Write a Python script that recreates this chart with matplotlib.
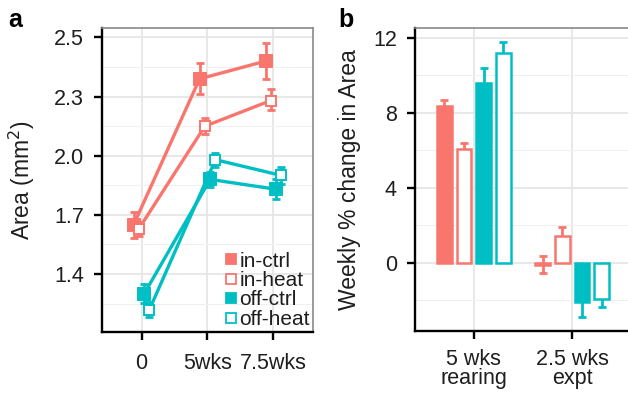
import numpy as np
import matplotlib
matplotlib.use("Agg")
import matplotlib.pyplot as plt
from matplotlib.lines import Line2D

plt.rcParams['font.family'] = ['Liberation Sans', 'DejaVu Sans']

# ---- panel a data (area, mm^2) ----
times = ['0', '5wks', '7.5wks']
groups = ['in-ctrl', 'in-heat', 'off-ctrl', 'off-heat']
area_mean = {
    'in-ctrl':  [1.65, 2.36, 2.42],
    'in-heat':  [1.63, 2.15, 2.28],
    'off-ctrl': [1.30, 1.88, 1.83],
    'off-heat': [1.22, 1.98, 1.90],
}
area_se = {
    'in-ctrl':  [0.066, 0.052, 0.061],
    'in-heat':  [0.035, 0.04, 0.046],
    'off-ctrl': [0.048, 0.036, 0.05],
    'off-heat': [0.036, 0.036, 0.041],
}
area_ticks = [1.4, 1.7, 2.0, 2.3, 2.5]

# ---- panel b data (weekly % change) ----
periods = ['5 wks\nrearing', '2.5 wks\nexpt']
change_mean = {
    'in-ctrl':  [8.36, -0.1],
    'in-heat':  [6.05, 1.42],
    'off-ctrl': [9.57, -2.08],
    'off-heat': [11.17, -1.94],
}
change_se = {
    'in-ctrl':  [0.35, 0.46],
    'in-heat':  [0.35, 0.47],
    'off-ctrl': [0.83, 0.80],
    'off-heat': [0.58, 0.41],
}

RED = '#F8766D'
TEAL = '#00BFC4'
colors = {'in-ctrl': RED, 'in-heat': RED, 'off-ctrl': TEAL, 'off-heat': TEAL}
hollow = {'in-ctrl': False, 'in-heat': True, 'off-ctrl': False, 'off-heat': True}
dodge_a = {'in-ctrl': -0.12, 'in-heat': -0.04, 'off-ctrl': 0.04, 'off-heat': 0.12}
dodge_b = {'in-ctrl': -0.3, 'in-heat': -0.1, 'off-ctrl': 0.1, 'off-heat': 0.3}

TXT = '#1e1e1e'
GRID = '#E6E6E6'


def style_axes(ax):
    ax.set_axisbelow(True)
    ax.grid(True, which='major', color=GRID, lw=1.3)
    ax.grid(True, which='minor', axis='y', color='#F0F0F0', lw=0.8)
    for s in ['left', 'bottom']:
        ax.spines[s].set_color('black')
        ax.spines[s].set_linewidth(1.7)
    for s in ['top', 'right']:
        ax.spines[s].set_color('#8a8a8a')
        ax.spines[s].set_linewidth(1.2)
    ax.tick_params(which='major', length=6, width=1.7, color='black',
                   labelsize=15.5, labelcolor=TXT, pad=7)
    ax.tick_params(which='minor', length=0)


# piecewise scale that puts the area ticks evenly apart
vals_k = np.array([0.5, 1.4, 1.7, 2.0, 2.3, 2.5, 3.5])
pos_k = np.array([-3.0, 0, 1, 2, 3, 4, 9])


def fwd(v):
    return np.interp(v, vals_k, pos_k)


def inv(p):
    return np.interp(p, pos_k, vals_k)


fig = plt.figure(figsize=(6.28, 3.95), dpi=100)

# =========================
# panel a
# =========================
ax1 = fig.add_axes([0.1624, 0.1595, 0.336, 0.7696])
ax1.set_yscale('function', functions=(fwd, inv))
xs = np.arange(1, len(times) + 1)
for g in groups:
    c = colors[g]
    x = xs + dodge_a[g]
    ax1.errorbar(x, area_mean[g], yerr=area_se[g], fmt='none', ecolor=c,
                 elinewidth=2.0, capsize=2.8, capthick=2.0, zorder=2)
    ax1.plot(x, area_mean[g], color=c, lw=2.4, zorder=3)
    ax1.plot(x, area_mean[g], ls='none', marker='s', ms=8 if not hollow[g] else 7,
             mfc='white' if hollow[g] else c, mec=c, mew=1.4, zorder=4)

ax1.set_xlim(0.4, 3.6)
ax1.set_ylim(1.106, 2.532)
ax1.set_xticks(xs)
ax1.set_xticklabels(times)
ax1.set_yticks(area_ticks)
ax1.set_yticklabels([f'{t:.1f}' for t in area_ticks])
ax1.set_yticks([1.25, 1.55, 1.85, 2.15, 2.4], minor=True)
ax1.set_xticks([], minor=True)
style_axes(ax1)
ax1.tick_params(axis='x', pad=9)
ax1.set_ylabel('Area (mm$^2$)', fontsize=16.5, color=TXT)
ax1.yaxis.set_label_coords(-0.31, 0.5)

handles = [Line2D([], [], ls='none', marker='s', ms=7.5 if not hollow[g] else 6.8,
                  mfc='white' if hollow[g] else colors[g], mec=colors[g], mew=1.3)
           for g in groups]
leg = ax1.legend(handles, groups, loc='lower right', frameon=False, fontsize=15,
                 handlelength=0.6, handletextpad=0.12, labelspacing=0.02,
                 borderaxespad=0.0, borderpad=0.15, bbox_to_anchor=(1.0, 0.0))
for t in leg.get_texts():
    t.set_color(TXT)

# =========================
# panel b
# =========================
ax2 = fig.add_axes([0.6608, 0.162, 0.344, 0.767])
xb = np.arange(1, len(periods) + 1)
for g in groups:
    c = colors[g]
    x = xb + dodge_b[g]
    ax2.errorbar(x, change_mean[g], yerr=change_se[g], fmt='none', ecolor=c,
                 elinewidth=2.0, capsize=2.9, capthick=2.0, zorder=2)
    ax2.bar(x, change_mean[g], width=0.15, color='white' if hollow[g] else c,
            edgecolor=c, linewidth=1.8, zorder=3)

ax2.set_xlim(0.4, 2.6)
ax2.set_ylim(-3.63, 12.52)
ax2.set_xticks(xb)
ax2.set_xticklabels(periods, linespacing=0.9)
ax2.set_yticks([0, 4, 8, 12])
ax2.set_yticks([-2, 2, 6, 10], minor=True)
style_axes(ax2)
ax2.tick_params(axis='x', pad=7)
ax2.set_ylabel('Weekly % change in Area', fontsize=16.5, color=TXT)
ax2.yaxis.set_label_coords(-0.25, 0.5)

fig.text(8 / 628, 1 - 27 / 395, 'a', fontsize=18, fontweight='bold', va='baseline')
fig.text(338 / 628, 1 - 27 / 395, 'b', fontsize=18, fontweight='bold', va='baseline')

fig.savefig('out.png', dpi=100)
